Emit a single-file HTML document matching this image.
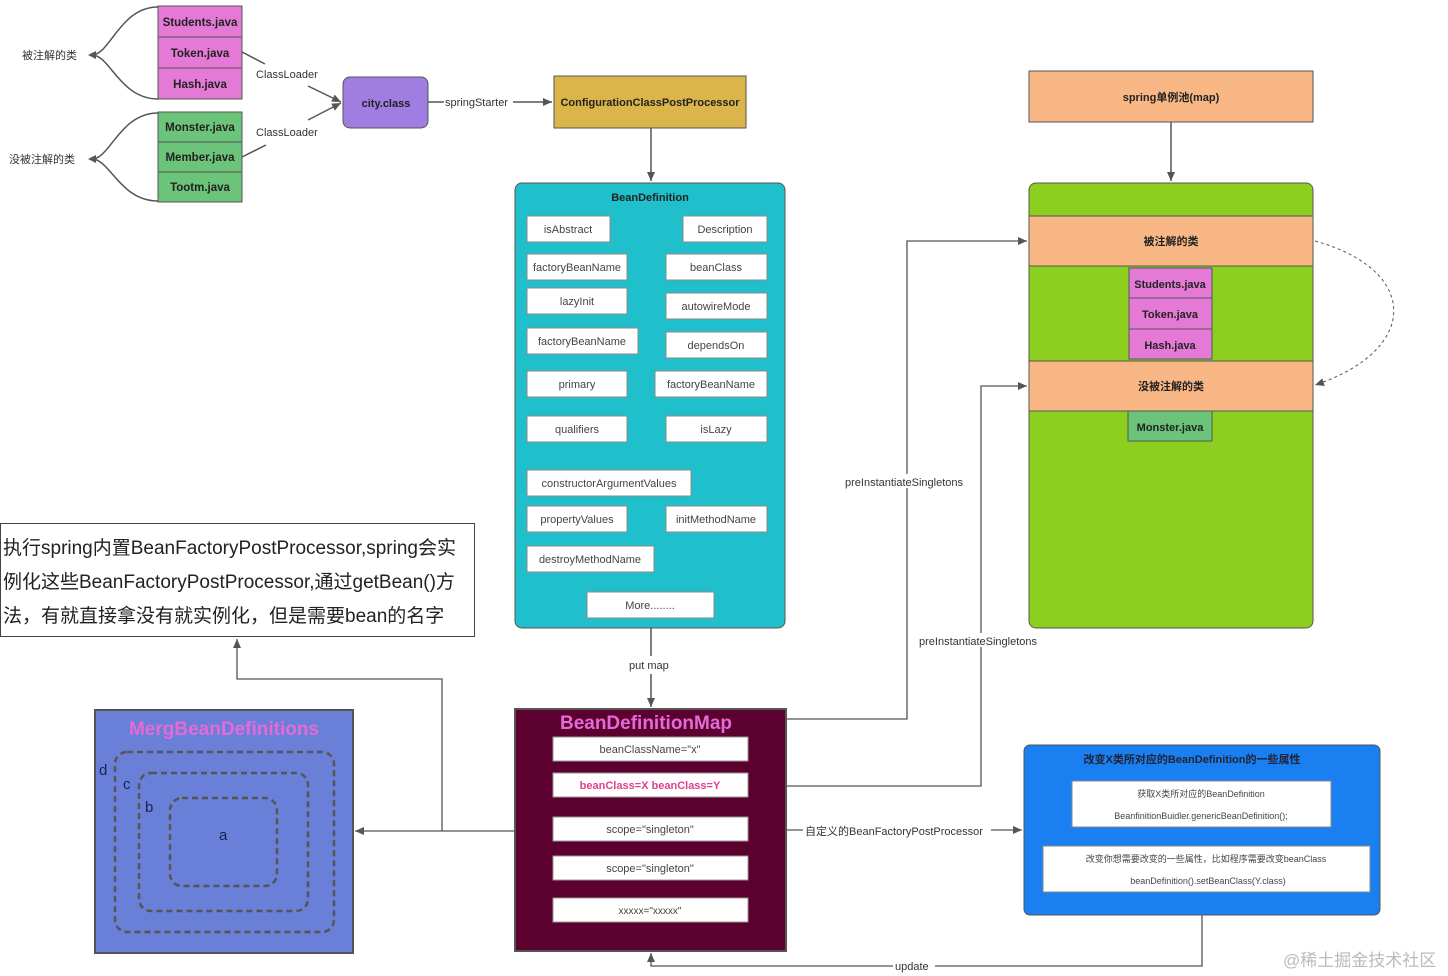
<!DOCTYPE html>
<html><head><meta charset="utf-8"><style>
body{margin:0;background:#fff;}
svg{display:block;font-family:"Liberation Sans","Noto Sans CJK SC",sans-serif;}
</style></head><body>
<svg width="1448" height="976" viewBox="0 0 1448 976" xmlns="http://www.w3.org/2000/svg">
<defs>
<marker id="ar" markerWidth="10" markerHeight="10" refX="9" refY="5" orient="auto" markerUnits="userSpaceOnUse"><path d="M0,1 L9,5 L0,9 z" fill="#555"/></marker>
</defs>
<g font-size="11" fill="#333">
<!-- left groups -->
<g stroke="#555" stroke-width="1">
<rect x="158" y="6" width="84" height="31" fill="#e47ad6"/>
<rect x="158" y="37" width="84" height="31" fill="#e47ad6"/>
<rect x="158" y="68" width="84" height="31" fill="#e47ad6"/>
<rect x="158" y="112" width="84" height="30" fill="#6cc37a"/>
<rect x="158" y="142" width="84" height="30" fill="#6cc37a"/>
<rect x="158" y="172" width="84" height="30" fill="#6cc37a"/>
</g>
<g font-weight="bold" font-size="11.5" fill="#222" text-anchor="middle">
<text x="200" y="26">Students.java</text><text x="200" y="57">Token.java</text><text x="200" y="88">Hash.java</text>
<text x="200" y="131">Monster.java</text><text x="200" y="161">Member.java</text><text x="200" y="191">Tootm.java</text>
</g>
<g fill="none" stroke="#555" stroke-width="1.5">
<path d="M158,7 C120,7 110,55 92,55 M158,99 C120,99 110,55 92,55"/>
<path d="M158,113 C120,113 110,159 92,159 M158,201 C120,201 110,159 92,159"/>
</g>
<path d="M88,55 l8,-4 v8z M88,159 l8,-4 v8z" fill="#555"/>
<text x="22" y="59">被注解的类</text><text x="9" y="163">没被注解的类</text>
<g stroke="#555" stroke-width="1.5" fill="none">
<path d="M242,52 L265,64"/><path d="M308,86 L341,102" marker-end="url(#ar)"/>
<path d="M242,157 L266,145"/><path d="M308,120 L341,103" marker-end="url(#ar)"/>
<path d="M428,102 L444,102 M513,102 L552,102" marker-end="url(#ar)"/>
<path d="M651,128 V181" marker-end="url(#ar)"/>
<path d="M1171,122 V181" marker-end="url(#ar)"/>
<path d="M651,628 V656 M651,674 V707" marker-end="url(#ar)"/>
</g>
<text x="256" y="78">ClassLoader</text><text x="256" y="136">ClassLoader</text>
<text x="445" y="106">springStarter</text>
<text x="629" y="669">put map</text>
<!-- city class -->
<rect x="343" y="77" width="85" height="51" rx="7" fill="#a07de0" stroke="#555"/>
<text x="386" y="107" text-anchor="middle" font-weight="bold" fill="#222">city.class</text>
<rect x="554" y="76" width="192" height="52" fill="#dbb44a" stroke="#555"/>
<text x="650" y="106" text-anchor="middle" font-weight="bold" fill="#222">ConfigurationClassPostProcessor</text>
<!-- BeanDefinition -->
<rect x="515" y="183" width="270" height="445" rx="7" fill="#1fbfcb" stroke="#555"/>
<text x="650" y="201" text-anchor="middle" font-weight="bold" fill="#222">BeanDefinition</text>
<g fill="#fff" stroke="#888">
<rect x="527" y="216" width="83" height="26"/><rect x="683" y="216" width="84" height="26"/>
<rect x="527" y="254" width="100" height="26"/><rect x="666" y="254" width="101" height="26"/>
<rect x="527" y="288" width="100" height="26"/><rect x="666" y="293" width="101" height="26"/>
<rect x="527" y="328" width="111" height="26"/><rect x="666" y="332" width="101" height="26"/>
<rect x="527" y="371" width="100" height="26"/><rect x="655" y="371" width="112" height="26"/>
<rect x="527" y="416" width="100" height="26"/><rect x="666" y="416" width="101" height="26"/>
<rect x="527" y="470" width="164" height="26"/>
<rect x="527" y="506" width="100" height="26"/><rect x="666" y="506" width="101" height="26"/>
<rect x="527" y="546" width="127" height="26"/>
<rect x="587" y="592" width="127" height="26"/>
</g>
<g text-anchor="middle" fill="#444">
<text x="568" y="233">isAbstract</text><text x="725" y="233">Description</text>
<text x="577" y="271">factoryBeanName</text><text x="716" y="271">beanClass</text>
<text x="577" y="305">lazyInit</text><text x="716" y="310">autowireMode</text>
<text x="582" y="345">factoryBeanName</text><text x="716" y="349">dependsOn</text>
<text x="577" y="388">primary</text><text x="711" y="388">factoryBeanName</text>
<text x="577" y="433">qualifiers</text><text x="716" y="433">isLazy</text>
<text x="609" y="487">constructorArgumentValues</text>
<text x="577" y="523">propertyValues</text><text x="716" y="523">initMethodName</text>
<text x="590" y="563">destroyMethodName</text>
<text x="650" y="609">More........</text>
</g>
<!-- pool -->
<rect x="1029" y="71" width="284" height="51" fill="#f8b784" stroke="#555"/>
<text x="1171" y="101" text-anchor="middle" font-weight="bold" fill="#222">spring单例池(map)</text>
<rect x="1029" y="183" width="284" height="445" rx="7" fill="#8ccf1e" stroke="#555"/>
<rect x="1029" y="216" width="284" height="50" fill="#f8b784" stroke="#555"/>
<text x="1171" y="245" text-anchor="middle" font-weight="bold" fill="#222">被注解的类</text>
<rect x="1029" y="361" width="284" height="50" fill="#f8b784" stroke="#555"/>
<text x="1171" y="390" text-anchor="middle" font-weight="bold" fill="#222">没被注解的类</text>
<g stroke="#555"><rect x="1129" y="268" width="83" height="30" fill="#e47ad6"/><rect x="1129" y="298" width="83" height="31" fill="#e47ad6"/><rect x="1129" y="329" width="83" height="30" fill="#e47ad6"/>
<rect x="1128" y="411" width="84" height="30" fill="#6cc37a"/></g>
<g font-weight="bold" text-anchor="middle" fill="#222">
<text x="1170" y="288">Students.java</text><text x="1170" y="318">Token.java</text><text x="1170" y="349">Hash.java</text><text x="1170" y="431">Monster.java</text>
</g>
<path d="M1315,241 C1420,270 1420,350 1315,385" fill="none" stroke="#555" stroke-dasharray="3,3" marker-end="url(#ar)"/>
<!-- connectors right -->
<g stroke="#555" stroke-width="1.3" fill="none">
<path d="M786,719 H907 V241 H1027" marker-end="url(#ar)"/>
<path d="M748,786 H981 V386 H1027" marker-end="url(#ar)"/>
<path d="M786,830 H803 M991,830 H1022" marker-end="url(#ar)"/>
<path d="M515,831 H355" marker-end="url(#ar)"/>
<path d="M442,831 V679 H237 V639" marker-end="url(#ar)"/>
<path d="M1202,915 V966 H935 M893,966 H651 V953" marker-end="url(#ar)"/>
</g>
<rect x="843" y="474" width="130" height="14" fill="#fff"/><text x="845" y="486">preInstantiateSingletons</text>
<rect x="917" y="633" width="130" height="14" fill="#fff"/><text x="919" y="645">preInstantiateSingletons</text>
<text x="805" y="835">自定义的BeanFactoryPostProcessor</text>
<text x="895" y="970">update</text>
<!-- text box -->
<rect x="0.5" y="523.5" width="474" height="113" fill="#fff" stroke="#444"/>
<g font-size="19" fill="#222">
<text x="3" y="554">执行spring内置BeanFactoryPostProcessor,spring会实</text>
<text x="3" y="588">例化这些BeanFactoryPostProcessor,通过getBean()方</text>
<text x="3" y="622">法，有就直接拿没有就实例化，但是需要bean的名字</text>
</g>
<!-- Merg -->
<rect x="95" y="710" width="258" height="243" fill="#6a7fd8" stroke="#555" stroke-width="2"/>
<text x="224" y="735" text-anchor="middle" font-size="19" font-weight="bold" fill="#e56ad8">MergBeanDefinitions</text>
<g fill="none" stroke="#555" stroke-width="2.5" stroke-dasharray="6,4">
<rect x="115" y="752" width="219" height="180" rx="12"/>
<rect x="139" y="773" width="169" height="138" rx="12"/>
<rect x="170" y="798" width="107" height="88" rx="12"/>
</g>
<g font-size="15" fill="#1a2050"><text x="99" y="775">d</text><text x="123" y="789">c</text><text x="145" y="812">b</text><text x="219" y="840">a</text></g>
<!-- Map -->
<rect x="515" y="709" width="271" height="242" fill="#5c0030" stroke="#555" stroke-width="2"/>
<text x="646" y="729" text-anchor="middle" font-size="19" font-weight="bold" fill="#e56ad8">BeanDefinitionMap</text>
<g fill="#fff" stroke="#999">
<rect x="553" y="737" width="195" height="24"/><rect x="553" y="773" width="195" height="24"/>
<rect x="553" y="817" width="195" height="24"/><rect x="553" y="856" width="195" height="24"/>
<rect x="553" y="898" width="195" height="24"/>
</g>
<g text-anchor="middle" fill="#444">
<text x="650" y="753">beanClassName="x"</text>
<text x="650" y="789" font-weight="bold" fill="#e0408a">beanClass=X beanClass=Y</text>
<text x="650" y="833">scope="singleton"</text><text x="650" y="872">scope="singleton"</text>
<text x="650" y="914" font-size="10">xxxxx="xxxxx"</text>
</g>
<!-- blue -->
<rect x="1024" y="745" width="356" height="170" rx="6" fill="#1a7ff0" stroke="#555"/>
<text x="1192" y="763" text-anchor="middle" font-weight="bold" fill="#223">改变X类所对应的BeanDefinition的一些属性</text>
<rect x="1072" y="781" width="259" height="46" fill="#fff" stroke="#888"/>
<rect x="1043" y="846" width="327" height="46" fill="#fff" stroke="#888"/>
<g text-anchor="middle" font-size="9" fill="#444">
<text x="1201" y="797">获取X类所对应的BeanDefinition</text>
<text x="1201" y="819">BeanfinitionBuidler.genericBeanDefinition();</text>
<text x="1206" y="862">改变你想需要改变的一些属性，比如程序需要改变beanClass</text>
<text x="1208" y="884">beanDefinition().setBeanClass(Y.class)</text>
</g>
<text x="1283" y="966" font-size="17" fill="#bbb">@稀土掘金技术社区</text>
</g>
</svg>
</body></html>
